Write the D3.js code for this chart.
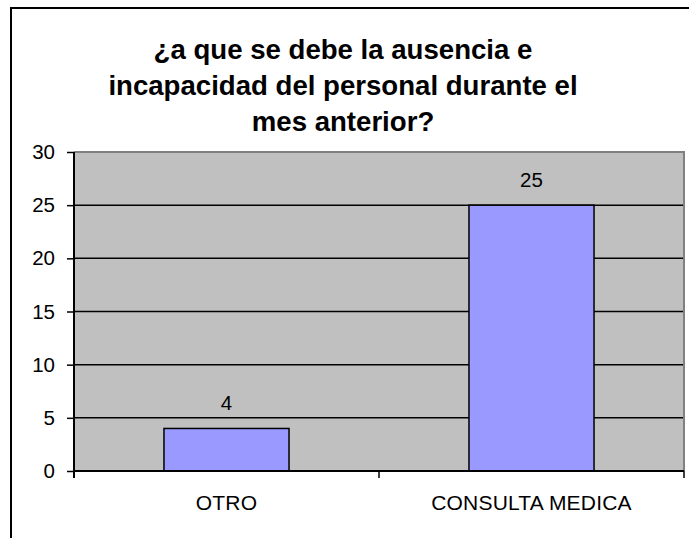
<!DOCTYPE html>
<html>
<head>
    <title>Ausencia e incapacidad</title>
    <script src="https://d3js.org/d3.v7.min.js"></script>
    <style>
        body { margin: 0; background: #fff; }
        svg { display: block; }
        text { font-family: Arial, "Liberation Sans", sans-serif; fill: #000; }
    </style>
</head>
<body>
    <svg width="689" height="538"></svg>
    <script>
        // data
        const titleLines = ["¿a que se debe la ausencia e", "incapacidad del personal durante el", "mes anterior?"];
        const categories = ["OTRO", "CONSULTA MEDICA"];
        const values = [4, 25];
        const yTicks = [0, 5, 10, 15, 20, 25, 30];

        const svg = d3.select("svg");

        // outer chart frame (runs off the right and bottom edges)
        svg.append("rect")
            .attr("x", 11).attr("y", 8)
            .attr("width", 720).attr("height", 560)
            .attr("fill", "#fff").attr("stroke", "#000").attr("stroke-width", 2);

        // title
        svg.append("g").selectAll("text")
            .data(titleLines)
            .enter().append("text")
            .attr("x", 343)
            .attr("y", (d, i) => 59 + i * 36)
            .attr("text-anchor", "middle")
            .attr("font-size", 27.6)
            .attr("font-weight", "bold")
            .text(d => d);

        const plot = { left: 74, right: 684, top: 152, bottom: 471 };

        const x = d3.scaleBand().domain(categories).range([plot.left, plot.right]).paddingInner(0).paddingOuter(0);
        const y = d3.scaleLinear().domain([0, 30]).range([plot.bottom, plot.top]);

        // plot background
        svg.append("rect")
            .attr("x", plot.left).attr("y", plot.top)
            .attr("width", plot.right - plot.left).attr("height", plot.bottom - plot.top)
            .attr("fill", "#c0c0c0");

        // gridlines
        svg.append("g").selectAll("line")
            .data(yTicks.filter(t => t > 0 && t < 30))
            .enter().append("line")
            .attr("x1", plot.left).attr("x2", plot.right)
            .attr("y1", d => y(d)).attr("y2", d => y(d))
            .attr("stroke", "#000").attr("stroke-width", 1.5);

        // gray top/right border of plot area
        svg.append("path")
            .attr("d", `M${plot.left},${plot.top}H${plot.right}V${plot.bottom}`)
            .attr("fill", "none").attr("stroke", "#808080").attr("stroke-width", 2);

        // bars
        const barW = x.bandwidth() * 0.41;
        svg.append("g").selectAll("rect")
            .data(values)
            .enter().append("rect")
            .attr("x", (d, i) => x(categories[i]) + (x.bandwidth() - barW) / 2)
            .attr("y", d => y(d))
            .attr("width", barW)
            .attr("height", d => y(0) - y(d))
            .attr("fill", "#9999ff")
            .attr("stroke", "#000").attr("stroke-width", 1.5);

        // value labels
        svg.append("g").selectAll("text")
            .data(values)
            .enter().append("text")
            .attr("x", (d, i) => x(categories[i]) + x.bandwidth() / 2)
            .attr("y", d => y(d) - 18)
            .attr("text-anchor", "middle")
            .attr("font-size", 20.5)
            .text(d => d);

        // y axis
        const yAxis = svg.append("g")
            .attr("transform", `translate(${plot.left},0)`)
            .call(d3.axisLeft(y).tickValues(yTicks).tickSize(7).tickPadding(12));
        yAxis.select(".domain").attr("stroke", "#000").attr("stroke-width", 2).attr("d", `M0,${plot.top}V${plot.bottom + 7}`);
        yAxis.selectAll(".tick line").attr("stroke", "#000").attr("stroke-width", 1.5);
        yAxis.selectAll(".tick text").attr("font-size", 20.5).attr("font-family", "Arial, 'Liberation Sans', sans-serif").attr("fill", "#000");

        // x axis
        const xAxis = svg.append("g")
            .attr("transform", `translate(0,${plot.bottom})`);
        xAxis.append("line")
            .attr("x1", plot.left).attr("x2", plot.right)
            .attr("stroke", "#000").attr("stroke-width", 2);
        xAxis.selectAll("line.tk")
            .data([plot.left, ...categories.map(c => x(c) + x.bandwidth())])
            .enter().append("line").attr("class", "tk")
            .attr("x1", d => d).attr("x2", d => d)
            .attr("y1", 0).attr("y2", 7)
            .attr("stroke", "#000").attr("stroke-width", 1.5);
        xAxis.selectAll("text")
            .data(categories)
            .enter().append("text")
            .attr("x", d => x(d) + x.bandwidth() / 2)
            .attr("y", 39)
            .attr("text-anchor", "middle")
            .attr("font-size", 21)
            .attr("letter-spacing", 0.2)
            .text(d => d);
    </script>
</body>
</html>
